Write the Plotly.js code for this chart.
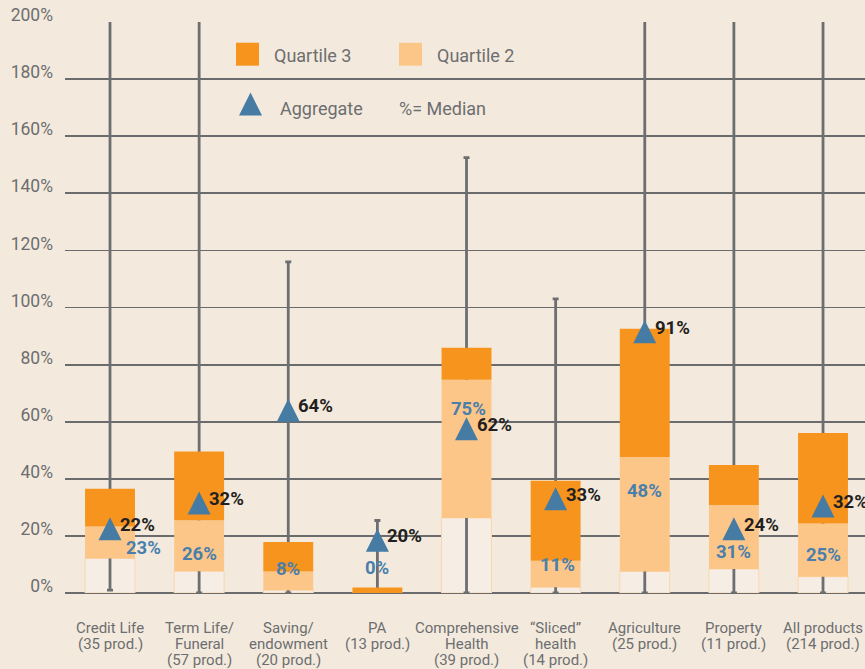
<!DOCTYPE html>
<html><head><meta charset="utf-8">
<script src="https://cdn.plot.ly/plotly-3.0.1.min.js"></script>
<style>html,body{margin:0;padding:0;background:#f3eadd;} #chart{width:865px;height:669px;}</style>
</head><body><div id="chart"></div>
<script>
// ---- data ----
const categories = ['Credit Life<br>(35 prod.)', 'Term Life/<br>Funeral<br>(57 prod.)', 'Saving/<br>endowment<br>(20 prod.)', 'PA<br>(13 prod.)', 'Comprehensive<br>Health<br>(39 prod.)', '\u201cSliced\u201d<br>health<br>(14 prod.)', 'Agriculture<br>(25 prod.)', 'Property<br>(11 prod.)', 'All products<br>(214 prod.)'];
const whiskerMin = [1, 0, 0, 0, 0, 0, 0, 0, 0];
const whiskerMax = [250, 250, 116, 25.4, 152.5, 103, 250, 250, 250];
const quartile1 = [12.1, 7.6, 1.0, 0, 26.3, 2.0, 7.5, 8.4, 5.7];
const median = [23.3, 25.5, 7.5, 0, 74.7, 11.3, 47.6, 30.8, 24.3];
const quartile3 = [36.5, 49.6, 17.9, 1.9, 85.9, 39.3, 92.6, 44.8, 56.0];
const aggregate = [22.5, 31.5, 64, 18.5, 57.5, 33, 91.5, 22.5, 30.5];
const medianLabels = ['23%', '26%', '8%', '0%', '75%', '11%', '48%', '31%', '25%'];
const aggregateLabels = ['22%', '32%', '64%', '20%', '62%', '33%', '91%', '24%', '32%'];
const yTicks = [0, 20, 40, 60, 80, 100, 120, 140, 160, 180, 200];

// ---- styles ----
const C_Q3 = '#f7941d', C_Q2 = '#fdc689', C_Q1 = '#f6eee4', C_Q1_LINE = '#fad6ae';
const C_TRI = '#467ba4', C_MED = '#4a7fab', C_GREY = '#6d6e70', C_BG = '#f3eadd';
const C_GRID = '#6a6b6d';
const FONT = 'Roboto, "Open Sans", sans-serif';
const medDX = [33, 0, 0, 0, 2, 2, 0, 0, 0];
const medDY = [22, 34, -3, -25, 29, 4, 34, 47, 31];
const BARW = 0.56;

const idx = categories.map((_, i) => i);

const traces = [
  { type: 'bar', x: idx, y: quartile1, width: BARW, marker: { color: C_Q1, line: { color: C_Q1_LINE, width: 1 } }, hoverinfo: 'skip' },
  { type: 'bar', x: idx, y: whiskerMax, width: BARW, marker: { color: 'rgba(0,0,0,0)', line: { width: 0 } },
    error_y: { type: 'data', symmetric: false, array: idx.map(() => 0), arrayminus: whiskerMax.map((v, i) => v - whiskerMin[i]), color: C_GREY, thickness: 2.8, width: 3 }, hoverinfo: 'skip' },
  { type: 'bar', x: idx, base: quartile1, y: median.map((v, i) => v - quartile1[i]), width: BARW, marker: { color: C_Q2, line: { width: 0 } }, name: 'Quartile 2' },
  { type: 'bar', x: idx, base: median, y: quartile3.map((v, i) => v - median[i]), width: BARW, marker: { color: C_Q3, line: { width: 0 } }, name: 'Quartile 3' }
];

const TRI = 'M-11.5,-11.5 L11.5,-11.5 L0,11.5 Z';
const shapes = aggregate.map((v, i) => ({
  type: 'path', xref: 'x', yref: 'y', xsizemode: 'pixel', ysizemode: 'pixel', xanchor: i, yanchor: v,
  path: TRI, fillcolor: C_TRI, line: { width: 0 }, layer: 'above'
}));

// legend (drawn manually)
shapes.push({ type: 'rect', xref: 'paper', yref: 'paper', x0: 0.21375, x1: 0.2425, y0: 0.9235, y1: 0.9637, fillcolor: C_Q3, line: { width: 0 } });
shapes.push({ type: 'rect', xref: 'paper', yref: 'paper', x0: 0.4175, x1: 0.44625, y0: 0.9235, y1: 0.9637, fillcolor: C_Q2, line: { width: 0 } });
shapes.push({ type: 'path', xref: 'paper', yref: 'paper', xsizemode: 'pixel', ysizemode: 'pixel', xanchor: 0.2319, yanchor: 0.8564, path: TRI, fillcolor: C_TRI, line: { width: 0 } });

const annotations = [];
const legendText = (t, x, y) => annotations.push({ xref: 'paper', yref: 'paper', x: x, y: y, xanchor: 'left', yanchor: 'middle', text: t, showarrow: false, font: { family: FONT, size: 18, color: C_GREY } });
legendText('Quartile 3', 0.25875, 0.9413);
legendText('Quartile 2', 0.4625, 0.9413);
legendText('Aggregate', 0.26625, 0.8485);
legendText('%= Median', 0.415, 0.8485);

// x category labels, one annotation per line
categories.forEach((c, i) => {
  c.split('<br>').forEach((line, j) => {
    annotations.push({ xref: 'x', yref: 'paper', x: i, y: 0, yanchor: 'middle', xanchor: 'center', yshift: -(35 + 16 * j), text: line, showarrow: false, font: { family: FONT, size: 15, color: C_GREY } });
  });
});
// aggregate labels
aggregate.forEach((v, i) => {
  annotations.push({ xref: 'x', yref: 'y', x: i, y: v, xanchor: 'left', yanchor: 'middle', xshift: 8, yshift: 4, text: aggregateLabels[i], showarrow: false, font: { family: FONT, size: 18.5, color: '#231f20', weight: 700 } });
});
// median labels
median.forEach((v, i) => {
  annotations.push({ xref: 'x', yref: 'y', x: i, y: v, xanchor: 'center', yanchor: 'middle', xshift: medDX[i], yshift: -medDY[i], text: medianLabels[i], showarrow: false, font: { family: FONT, size: 18.5, color: C_MED, weight: 700 } });
});

const layout = {
  width: 865, height: 669,
  margin: { l: 65, r: 0, t: 22, b: 76 },
  paper_bgcolor: C_BG, plot_bgcolor: C_BG,
  barmode: 'overlay', showlegend: false,
  xaxis: { range: [-0.505, 8.471], showgrid: false, zeroline: false, showticklabels: false, showline: false, fixedrange: true },
  yaxis: { range: [0, 200], tickvals: yTicks, ticktext: yTicks.map(v => v + '%'), showgrid: true, gridcolor: C_GRID, gridwidth: 1.8,
           zeroline: true, zerolinecolor: C_GRID, zerolinewidth: 1.8, ticks: '', ticklabelstandoff: 11, ticklabelshift: -7,
           tickfont: { family: FONT, size: 17.5, color: C_GREY }, fixedrange: true },
  shapes: shapes,
  annotations: annotations
};

Plotly.newPlot('chart', traces, layout, { displayModeBar: false, staticPlot: true });
</script>
</body></html>
